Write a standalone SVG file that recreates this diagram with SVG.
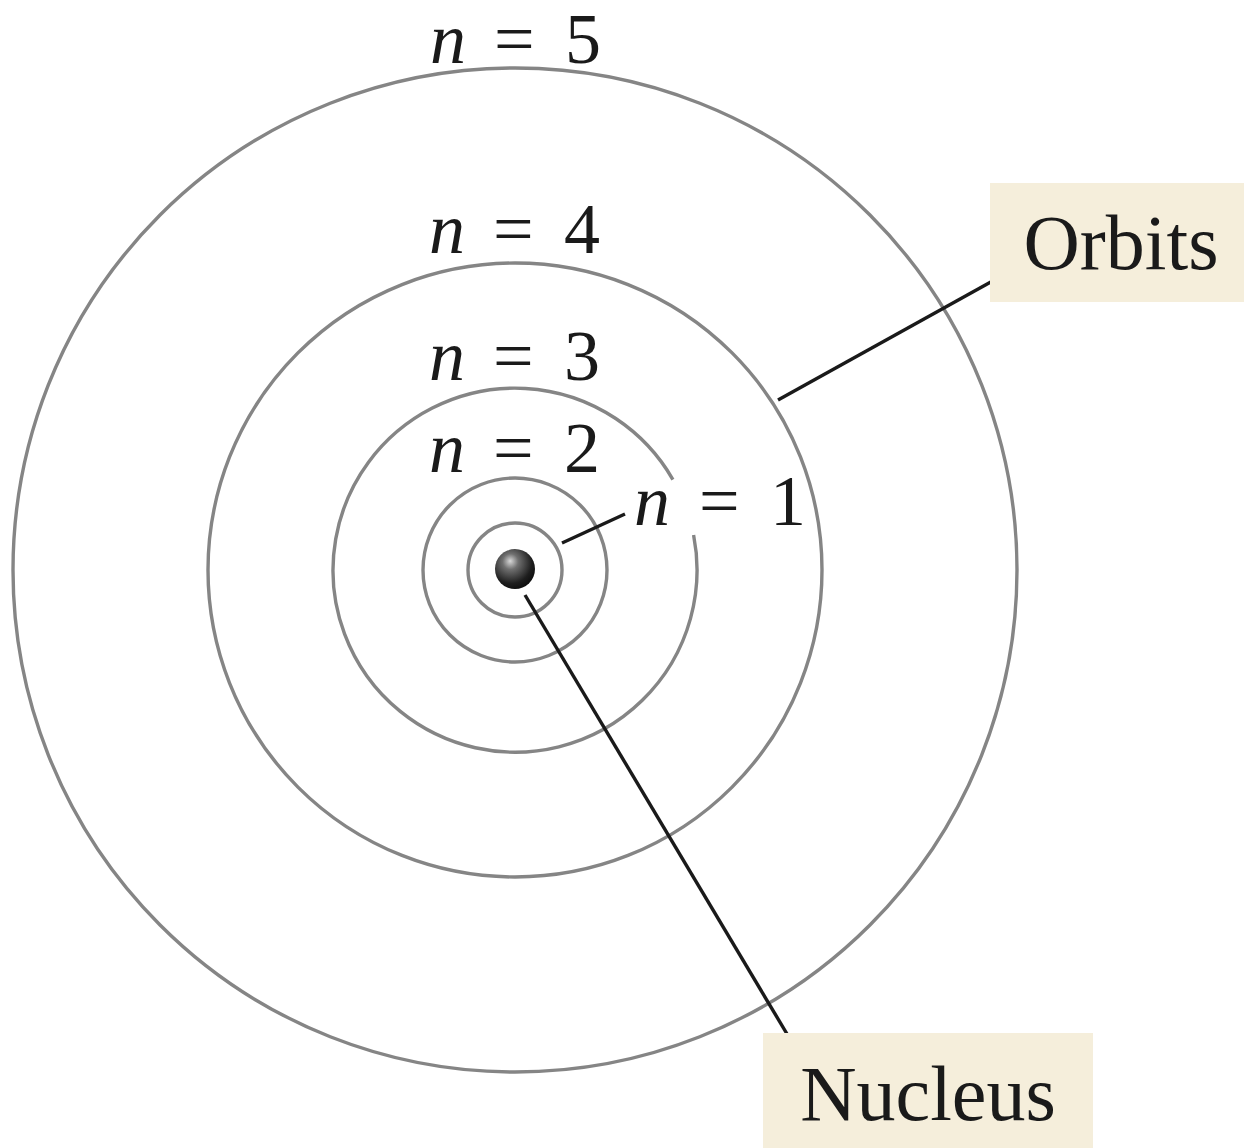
<svg xmlns="http://www.w3.org/2000/svg" width="1244" height="1148" viewBox="0 0 1244 1148">
<style>
.orbit{fill:none;stroke:#858585;stroke-width:3.4}
.lead{fill:none;stroke:#1a1a1a;stroke-width:3.4}
.lbl{font-family:"Liberation Serif",serif;font-size:72px;fill:#1a1a1a}
.box{fill:#f5eedb}
.big{font-family:"Liberation Serif",serif;font-size:78px;fill:#1a1a1a}
</style>
<defs>
<radialGradient id="ball" cx="0.4" cy="0.35" r="0.65" fx="0.38" fy="0.3">
<stop offset="0" stop-color="#d8d8d8"/>
<stop offset="0.3" stop-color="#707070"/>
<stop offset="0.8" stop-color="#1e1e1e"/>
<stop offset="1" stop-color="#101010"/>
</radialGradient>
</defs>
<rect width="1244" height="1148" fill="#ffffff"/>
<g id="orbits">
<circle id="orbit5" class="orbit" cx="515" cy="570" r="502"/>
<circle id="orbit4" class="orbit" cx="515" cy="570" r="307"/>
<path id="orbit3" class="orbit" d="M 693.6 535 A 182 182 0 1 1 672.9 479.6"/>
<circle id="orbit2" class="orbit" cx="515" cy="570" r="92"/>
<circle id="orbit1" class="orbit" cx="515" cy="570" r="47"/>
</g>
<g id="nucleus">
<circle cx="515" cy="569" r="20" fill="url(#ball)"/>
</g>
<g id="connectors">
<line class="lead" x1="562" y1="543" x2="625" y2="514"/>
<line class="lead" x1="525" y1="595" x2="793" y2="1044"/>
<line class="lead" x1="778" y1="400" x2="1007" y2="273"/>
</g>
<g id="label-n5"><text class="lbl" y="63" font-size="70"><tspan x="430" font-style="italic">n</tspan><tspan x="494">=</tspan><tspan x="565">5</tspan></text></g>
<g id="label-n4"><text class="lbl" y="253"><tspan x="429" font-style="italic">n</tspan><tspan x="493">=</tspan><tspan x="564">4</tspan></text></g>
<g id="label-n3"><text class="lbl" y="380"><tspan x="429" font-style="italic">n</tspan><tspan x="493">=</tspan><tspan x="564">3</tspan></text></g>
<g id="label-n2"><text class="lbl" y="472"><tspan x="429" font-style="italic">n</tspan><tspan x="493">=</tspan><tspan x="564">2</tspan></text></g>
<g id="label-n1"><text class="lbl" y="525"><tspan x="634" font-style="italic">n</tspan><tspan x="699">=</tspan><tspan x="770">1</tspan></text></g>
<g id="orbits-label">
<rect class="box" x="990" y="183" width="254" height="119"/>
<text class="big" x="1121" y="269" text-anchor="middle">Orbits</text>
</g>
<g id="nucleus-label">
<rect class="box" x="763" y="1033" width="330" height="115"/>
<text class="big" x="928" y="1120" text-anchor="middle">Nucleus</text>
</g>
</svg>
